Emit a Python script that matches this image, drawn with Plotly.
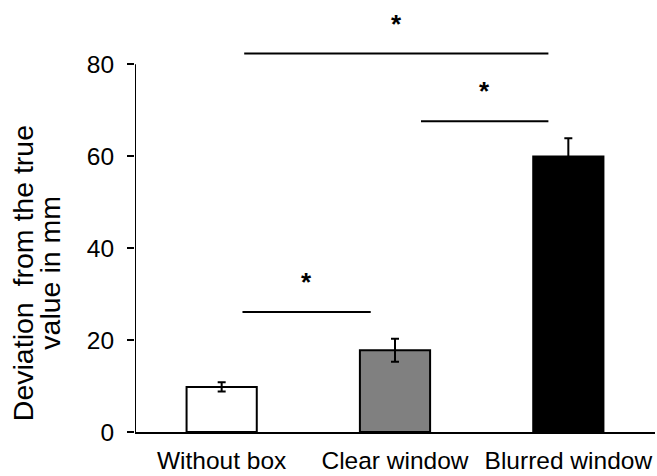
import plotly.graph_objects as go

# Mean deviation per viewing condition, with error (SEM)
conditions = ["Without box", "Clear window", "Blurred window"]
deviation_mm = [9.8, 17.8, 59.9]
error_mm = [1.0, 2.5, 4.0]
bar_colors = ["#ffffff", "#808080", "#000000"]

y_ticks = [0, 20, 40, 60, 80]
y_title_lines = ["Deviation  from the true", "value in mm"]

# Significance brackets: (start category, end category, height in mm)
sig_pairs = [
    (0.12, 0.86, 26.1),
    (1.15, 1.885, 67.6),
    (0.13, 1.885, 82.3),
]
sig_label = "*"
star_offset = 6.5

FONT = "Liberation Sans, Arial, sans-serif"
TICK_SIZE = 24.5

fig = go.Figure()

fig.add_trace(go.Bar(
    x=list(range(len(conditions))),
    y=deviation_mm,
    width=0.405,
    marker=dict(color=bar_colors, line=dict(color="#000000", width=2)),
    error_y=dict(type="data", array=error_mm, visible=True,
                 color="#000000", thickness=2, width=4),
    showlegend=False,
))

# Vertical axis line only spanning the tick range
fig.add_trace(go.Scatter(
    x=[-0.5, -0.5], y=[y_ticks[0], y_ticks[-1]],
    mode="lines", line=dict(color="#000000", width=2),
    cliponaxis=False, showlegend=False, hoverinfo="skip",
))

for x0, x1, h in sig_pairs:
    fig.add_shape(type="line", xref="x", yref="y", x0=x0, x1=x1, y0=h, y1=h,
                  line=dict(color="#000000", width=2))
    fig.add_annotation(x=(x0 + x1) / 2, y=h + star_offset, xref="x", yref="y",
                       text="<b>" + sig_label + "</b>", showarrow=False,
                       font=dict(family=FONT, size=26, color="#000000"))

# Two-line rotated axis title, set tightly
for line_text, xpos in zip(y_title_lines, [-0.215, -0.164]):
    fig.add_annotation(
        xref="paper", yref="paper", x=xpos, y=0.376,
        xanchor="center", yanchor="middle",
        text=line_text, textangle=-90, showarrow=False,
        font=dict(family=FONT, size=28.5, color="#000000"),
    )

fig.update_layout(
    width=657, height=476,
    margin=dict(l=135, r=2, t=9, b=44),
    paper_bgcolor="#ffffff", plot_bgcolor="#ffffff",
    font=dict(family=FONT, size=TICK_SIZE, color="#000000"),
    xaxis=dict(
        range=[-0.5, 2.5],
        tickvals=list(range(len(conditions))), ticktext=conditions,
        showline=True, linecolor="#000000", linewidth=2,
        ticks="", showgrid=False, zeroline=False,
        ticklabelstandoff=6,
        tickfont=dict(family=FONT, size=TICK_SIZE),
    ),
    yaxis=dict(
        range=[0, 92],
        tickvals=y_ticks,
        showline=False, showgrid=False, zeroline=False,
        ticks="outside", ticklen=7, tickwidth=2, tickcolor="#000000",
        ticklabelstandoff=8,
        tickfont=dict(family=FONT, size=TICK_SIZE),
    ),
)

fig.write_html("out.html")
